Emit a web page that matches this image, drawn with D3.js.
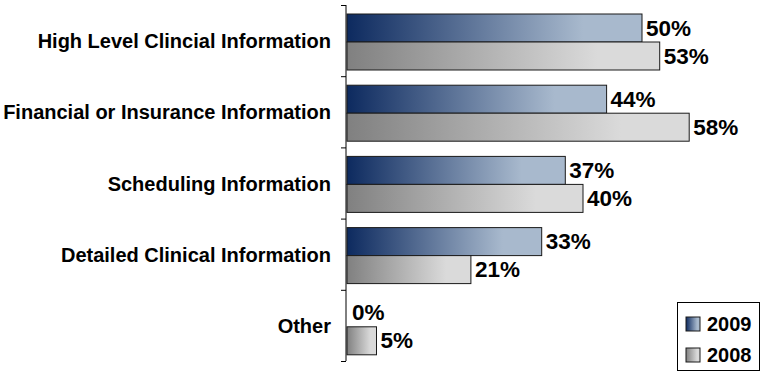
<!DOCTYPE html>
<html>
<head>
<meta charset="utf-8">
<script src="https://cdn.jsdelivr.net/npm/d3@7"></script>
<style>
  html, body { margin: 0; padding: 0; background: #fff; }
  svg { display: block; font-family: "Liberation Sans", Arial, sans-serif; }
</style>
</head>
<body>
<svg id="chart" width="762" height="371"></svg>
<script>
// Information categories, top to bottom
const categories = [
  "High Level Clincial Information",
  "Financial or Insurance Information",
  "Scheduling Information",
  "Detailed Clinical Information",
  "Other"
];
const seriesNames = ["2009", "2008"];
const values2009 = [50, 44, 37, 33, 0];
const values2008 = [53, 58, 40, 21, 5];

const svg = d3.select("#chart");
const defs = svg.append("defs");

// Horizontal gradients applied per bar
const gradients = {
  "2009": ["#0d2a5f", "#a8b9cd"],
  "2008": ["#808080", "#dadada"]
};
Object.entries(gradients).forEach(([name, [c0, c1]]) => {
  const g = defs.append("linearGradient")
    .attr("id", "grad" + name)
    .attr("x1", "0%").attr("x2", "100%").attr("y1", "0%").attr("y2", "0%");
  g.append("stop").attr("offset", "0%").attr("stop-color", c0);
  g.append("stop").attr("offset", "80%").attr("stop-color", c1);
  g.append("stop").attr("offset", "100%").attr("stop-color", c1);
});

const axisX = 346;
const x = d3.scaleLinear().domain([0, 100]).range([axisX + 1, 937]);
const y = d3.scaleBand().domain(categories).range([5, 361]).paddingInner(0).paddingOuter(0);
const inner = d3.scaleBand().domain(seriesNames).range([9, 65]);

const rows = categories.map((c, i) => ({
  category: c,
  bars: [
    { series: "2009", value: values2009[i] },
    { series: "2008", value: values2008[i] }
  ]
}));

const group = svg.selectAll("g.cat")
  .data(rows)
  .join("g")
  .attr("class", "cat")
  .attr("transform", d => `translate(0,${y(d.category)})`);

group.selectAll("rect")
  .data(d => d.bars.filter(b => b.value > 0))
  .join("rect")
  .attr("x", x(0))
  .attr("y", b => inner(b.series))
  .attr("width", b => x(b.value) - x(0))
  .attr("height", inner.bandwidth())
  .attr("fill", b => `url(#grad${b.series})`)
  .attr("stroke", "#1a1a1a")
  .attr("stroke-width", 1);

group.selectAll("text.val")
  .data(d => d.bars)
  .join("text")
  .attr("class", "val")
  .attr("x", b => x(b.value) + (b.value > 0 ? 4 : 5))
  .attr("y", b => inner(b.series) + inner.bandwidth() / 2)
  .attr("dy", "0.34em")
  .attr("font-size", 22.5)
  .attr("font-weight", "bold")
  .attr("fill", "#000")
  .text(b => b.value + "%");

// Category axis on the left
const axis = d3.axisLeft(y).tickSize(0).tickPadding(15);
const axisG = svg.append("g")
  .attr("transform", `translate(${axisX},0)`)
  .call(axis);
axisG.select(".domain").remove();
axisG.selectAll("text")
  .attr("font-size", 20)
  .attr("font-weight", "bold")
  .attr("fill", "#000")
  .attr("dy", "0.38em")
  .attr("font-family", "Liberation Sans, Arial, sans-serif");

// Axis line with tick marks at category boundaries
const boundaries = categories.map(c => y(c)).concat([y.range()[1]]);
svg.append("line")
  .attr("x1", axisX).attr("x2", axisX)
  .attr("y1", y.range()[0]).attr("y2", y.range()[1])
  .attr("stroke", "#000").attr("stroke-width", 1);
svg.selectAll("line.tick")
  .data(boundaries)
  .join("line")
  .attr("class", "tick")
  .attr("x1", axisX - 5).attr("x2", axisX)
  .attr("y1", d => d + 0.5).attr("y2", d => d + 0.5)
  .attr("stroke", "#000");

// Legend
const legend = svg.append("g").attr("transform", "translate(677,302)");
legend.append("rect")
  .attr("x", 0.5).attr("y", 0.5)
  .attr("width", 82).attr("height", 68)
  .attr("fill", "#fff").attr("stroke", "#000");
const item = legend.selectAll("g.item")
  .data(seriesNames)
  .join("g")
  .attr("class", "item")
  .attr("transform", (d, i) => `translate(9,${15 + i * 31})`);
item.append("rect")
  .attr("width", 14).attr("height", 14)
  .attr("fill", d => `url(#grad${d})`)
  .attr("stroke", "#1a1a1a");
item.append("text")
  .attr("x", 21).attr("y", 7)
  .attr("dy", "0.36em")
  .attr("font-size", 20)
  .attr("font-weight", "bold")
  .text(d => d);
</script>
</body>
</html>
